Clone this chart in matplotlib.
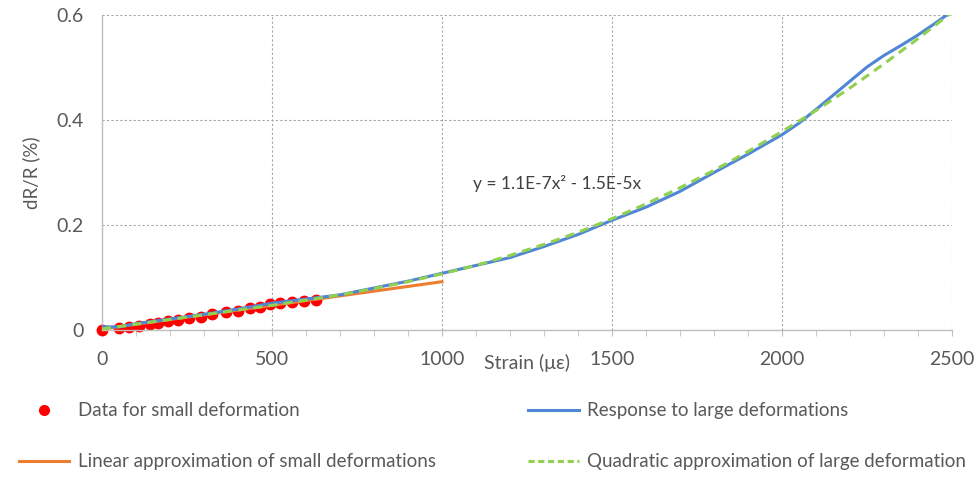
import numpy as np
import matplotlib
matplotlib.use("Agg")
import matplotlib.pyplot as plt
from matplotlib.lines import Line2D

plt.rcParams['font.family'] = ['Lato', 'DejaVu Sans']

# data for small deformation (red dots)
small_x = [0, 50, 80, 110, 140, 165, 195, 225, 255, 290, 325, 365, 400, 435, 465, 495, 525, 560, 595, 630]
small_y = [0.000, 0.003, 0.005, 0.008, 0.011, 0.014, 0.018, 0.020, 0.022, 0.025, 0.030, 0.034,
           0.037, 0.041, 0.044, 0.049, 0.051, 0.054, 0.056, 0.058]

# linear approximation (end points)
lin_x = [0, 1000]
lin_y = [0.002, 0.092]

# response to large deformations (blue)
large_x = [0, 50, 100, 200, 300, 400, 500, 600, 700, 800, 900, 1000, 1100, 1200, 1300, 1400,
           1500, 1600, 1700, 1800, 1900, 2000, 2050, 2100, 2150, 2200, 2250, 2300, 2350, 2400,
           2450, 2500]
large_y = [0.006, 0.006, 0.012, 0.021, 0.030, 0.040, 0.051, 0.059, 0.067, 0.080, 0.093, 0.108,
           0.123, 0.138, 0.159, 0.182, 0.209, 0.234, 0.264, 0.300, 0.335, 0.372, 0.394, 0.420,
           0.447, 0.474, 0.501, 0.523, 0.542, 0.562, 0.584, 0.607]

# quadratic approximation (green dashed)
quad_x = [0, 100, 200, 300, 400, 500, 600, 700, 800, 900, 1000, 1100, 1200, 1300, 1400, 1500,
          1600, 1700, 1800, 1900, 2000, 2100, 2200, 2300, 2400, 2500]
quad_y = [0.002, 0.011, 0.020, 0.029, 0.038, 0.047, 0.057, 0.067, 0.079, 0.092, 0.107, 0.123,
          0.142, 0.163, 0.186, 0.212, 0.240, 0.271, 0.304, 0.340, 0.378, 0.418, 0.461, 0.507,
          0.555, 0.605]

labels = ["Data for small deformation", "Linear approximation of small deformations",
          "Response to large deformations", "Quadratic approximation of large deformation"]
equation = "y = 1.1E-7x\u00b2 - 1.5E-5x"

grey = '#595959'
c_red, c_orange, c_blue, c_green = '#ff0000', '#ed7d31', '#4f86d6', '#92d050'

fig = plt.figure(figsize=(9.76, 4.78), dpi=100)
ax = fig.add_axes([0.1045, 0.3096, 0.8709, 0.659])

ax.plot(small_x, small_y, 'o', color=c_red, ms=7.5, zorder=2, clip_on=False)
ax.plot(lin_x, lin_y, '-', color=c_orange, lw=2.2, zorder=3)
ax.plot(large_x, large_y, '-', color=c_blue, lw=2.2, zorder=4)
ax.plot(quad_x, quad_y, '--', color=c_green, lw=2.2, dashes=(3, 2), zorder=5)

ax.set_xlim(0, 2500)
ax.set_ylim(0, 0.6)
ax.set_xticks([0, 500, 1000, 1500, 2000, 2500])
ax.set_xticks(np.arange(0, 2501, 100), minor=True)
ax.set_yticks([0, 0.2, 0.4, 0.6])
ax.set_yticklabels(['0', '0.2', '0.4', '0.6'])

ax.grid(True, which='major', color='#a6a6a6', lw=0.8, linestyle=(0, (2, 2)))
ax.set_axisbelow(True)
for s in ['top', 'right']:
    ax.spines[s].set_visible(False)
for s in ['left', 'bottom']:
    ax.spines[s].set_color('#bfbfbf')
    ax.spines[s].set_linewidth(1.0)

ax.tick_params(axis='x', which='both', direction='out', length=4, color='#bfbfbf',
               labelcolor=grey, labelsize=14, pad=11)
ax.tick_params(axis='y', length=0, labelcolor=grey, labelsize=14, pad=13)

ax.set_ylabel("dR/R (%)", color=grey, fontsize=13.5, labelpad=12)
ax.text(0.5, -0.105, "Strain (\u03bc\u03b5)", transform=ax.transAxes, ha='center', va='center',
        color=grey, fontsize=14)
ax.text(1091, 0.28, equation, ha='left', va='center', color='#404040', fontsize=12.5)

h_dot = Line2D([], [], marker='o', color=c_red, ls='none', ms=7)
h_lin = Line2D([], [], color=c_orange, lw=2.2)
h_big = Line2D([], [], color=c_blue, lw=2.2)
h_quad = Line2D([], [], color=c_green, lw=2.2, ls='--', dashes=(2, 1.2))

kw = dict(loc='upper left', frameon=False, borderpad=0, borderaxespad=0, handlelength=2.7,
          handletextpad=0.45, labelspacing=1.8, fontsize=13.5, labelcolor=grey)
fig.legend([h_dot, h_lin], labels[:2], bbox_to_anchor=(0.019, 0.158), **kw)
fig.legend([h_big, h_quad], labels[2:], bbox_to_anchor=(0.541, 0.158), **kw)

fig.savefig("out.png", dpi=100)
